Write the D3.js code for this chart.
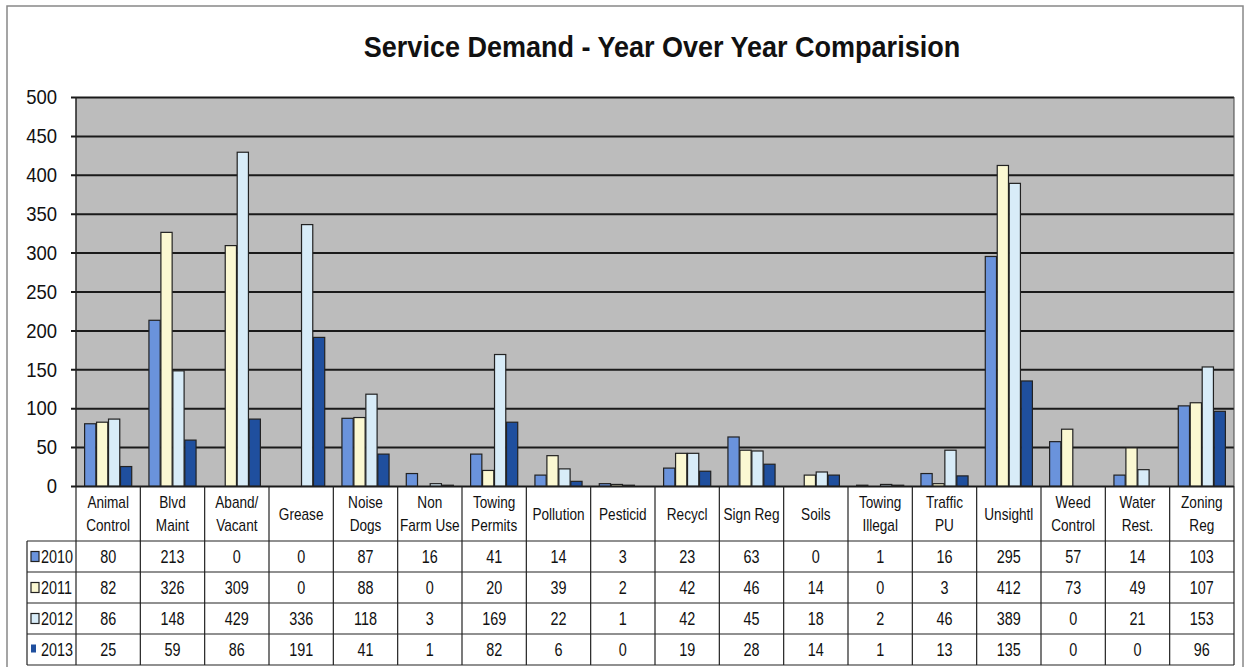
<!DOCTYPE html>
<html>
<head>
<meta charset="utf-8">
<script src="https://cdn.jsdelivr.net/npm/d3@7"></script>
<style>
	body { margin: 0; background: #fff; }
	svg text { font-family: "Liberation Sans", Arial, sans-serif; fill: #111; }
</style>
</head>
<body>
<div id="chart"></div>
<script>
// chart values
var categories = [["Animal", "Control"], ["Blvd", "Maint"], ["Aband/", "Vacant"], ["Grease"], ["Noise", "Dogs"],
	["Non", "Farm Use"], ["Towing", "Permits"], ["Pollution"], ["Pesticid"], ["Recycl"], ["Sign Reg"], ["Soils"],
	["Towing", "Illegal"], ["Traffic", "PU"], ["Unsightl"], ["Weed", "Control"], ["Water", "Rest."], ["Zoning", "Reg"]];
var years = ["2010", "2011", "2012", "2013"];
var values2010 = [80, 213, 0, 0, 87, 16, 41, 14, 3, 23, 63, 0, 1, 16, 295, 57, 14, 103];
var values2011 = [82, 326, 309, 0, 88, 0, 20, 39, 2, 42, 46, 14, 0, 3, 412, 73, 49, 107];
var values2012 = [86, 148, 429, 336, 118, 3, 169, 22, 1, 42, 45, 18, 2, 46, 389, 0, 21, 153];
var values2013 = [25, 59, 86, 191, 41, 1, 82, 6, 0, 19, 28, 14, 1, 13, 135, 0, 0, 96];
var yTicks = [0, 50, 100, 150, 200, 250, 300, 350, 400, 450, 500];

var series = [values2010, values2011, values2012, values2013];
var colors = ["#6a93dc", "#fbf8d2", "#d8ecf8", "#1f4f9e"];

var width = 1245, height = 667;
var plotLeft = 76, plotRight = 1234, plotTop = 97, plotBottom = 486;
var labelLeft = 27;
var headerBottom = 541;
var rowH = 31;

var svg = d3.select("#chart").append("svg")
	.attr("width", width)
	.attr("height", height);

// outer frame
svg.append("rect")
	.attr("x", 7).attr("y", 6)
	.attr("width", 1236).attr("height", 670)
	.attr("fill", "none")
	.attr("stroke", "#888")
	.attr("stroke-width", 1.5);

svg.append("text")
	.attr("class", "narrow")
	.attr("data-squeeze", 0.9)
	.attr("x", 662).attr("y", 57)
	.attr("text-anchor", "middle")
	.attr("font-size", 30)
	.attr("font-weight", "bold")
	.text("Service Demand - Year Over Year Comparision");

var xScale = d3.scaleBand()
	.domain(d3.range(categories.length))
	.range([plotLeft, plotRight]);

var xInner = d3.scaleBand()
	.domain(d3.range(years.length))
	.range([0, xScale.bandwidth()])
	.paddingOuter(0.72)
	.paddingInner(0.06);

var yScale = d3.scaleLinear()
	.domain([0, 500])
	.range([plotBottom, plotTop]);

// plot background
svg.append("rect")
	.attr("x", plotLeft).attr("y", plotTop)
	.attr("width", plotRight - plotLeft).attr("height", plotBottom - plotTop)
	.attr("fill", "#bcbcbc");

// gridlines + y axis
var yAxis = svg.append("g")
	.attr("transform", "translate(" + plotLeft + ",0)")
	.call(d3.axisLeft(yScale).tickValues(yTicks).tickSize(5).tickPadding(14).tickFormat(d3.format("d")));
yAxis.select(".domain").remove();
yAxis.selectAll(".tick line")
	.attr("x1", -5)
	.attr("x2", plotRight - plotLeft)
	.attr("stroke", "#1a1a1a")
	.attr("stroke-width", 2);
yAxis.selectAll(".tick text")
	.attr("class", "narrow")
	.attr("data-squeeze", 0.88)
	.attr("font-size", 21)
	.attr("font-family", "'Liberation Sans', Arial, sans-serif")
	.attr("fill", "#111");

// left + right plot edge
svg.append("line").attr("x1", plotLeft).attr("x2", plotLeft).attr("y1", plotTop).attr("y2", plotBottom)
	.attr("stroke", "#222").attr("stroke-width", 1.5);
svg.append("line").attr("x1", plotRight).attr("x2", plotRight).attr("y1", plotTop).attr("y2", plotBottom)
	.attr("stroke", "#444").attr("stroke-width", 1);

// bars
var groups = svg.selectAll(".grp")
	.data(series)
	.enter()
	.append("g")
	.attr("class", "grp");

groups.each(function(vals, s) {
	d3.select(this).selectAll("rect")
		.data(vals)
		.enter()
		.append("rect")
		.attr("x", function(d, i) { return xScale(i) + xInner(s); })
		.attr("y", function(d) { return yScale(d); })
		.attr("width", xInner.bandwidth())
		.attr("height", function(d) { return yScale(0) - yScale(d); })
		.attr("fill", colors[s])
		.attr("stroke", "#222")
		.attr("stroke-width", 1.2);
});

// data table
var table = svg.append("g");
var tableBottom = headerBottom + rowH * years.length;

table.selectAll(".vline")
	.data(d3.range(categories.length + 1))
	.enter()
	.append("line")
	.attr("x1", function(i) { return i < categories.length ? xScale(i) : plotRight; })
	.attr("x2", function(i) { return i < categories.length ? xScale(i) : plotRight; })
	.attr("y1", plotBottom)
	.attr("y2", tableBottom)
	.attr("stroke", "#222")
	.attr("stroke-width", 1.2);

table.append("line")
	.attr("x1", labelLeft).attr("x2", labelLeft)
	.attr("y1", headerBottom).attr("y2", tableBottom)
	.attr("stroke", "#222").attr("stroke-width", 1.2);

table.selectAll(".hline")
	.data(d3.range(years.length + 1))
	.enter()
	.append("line")
	.attr("x1", labelLeft)
	.attr("x2", plotRight)
	.attr("y1", function(i) { return headerBottom + i * rowH; })
	.attr("y2", function(i) { return headerBottom + i * rowH; })
	.attr("stroke", "#222")
	.attr("stroke-width", 1.2);

// category headers
table.selectAll(".cat")
	.data(categories)
	.enter()
	.append("text")
	.attr("class", "cat")
	.attr("text-anchor", "middle")
	.attr("font-size", 17)
	.each(function(lines, i) {
		var cx = xScale(i) + xScale.bandwidth() / 2;
		var t = d3.select(this);
		if (lines.length === 1) {
			t.append("tspan").attr("class", "narrow").attr("data-squeeze", 0.8).attr("x", cx).attr("y", 520).text(lines[0]);
		} else {
			t.append("tspan").attr("class", "narrow").attr("data-squeeze", 0.8).attr("x", cx).attr("y", 508).text(lines[0]);
			t.append("tspan").attr("class", "narrow").attr("data-squeeze", 0.8).attr("x", cx).attr("y", 531).text(lines[1]);
		}
	});

// rows
years.forEach(function(yr, s) {
	var cy = headerBottom + s * rowH + rowH / 2 + 6;
	table.append("rect")
		.attr("x", labelLeft + 4).attr("y", cy - 11)
		.attr("width", s === 3 ? 5 : 8).attr("height", s === 3 ? 8 : 10)
		.attr("fill", colors[s])
		.attr("stroke", s === 3 ? "none" : "#222")
		.attr("stroke-width", 1.2);
	table.append("text")
		.attr("class", "narrow")
		.attr("x", labelLeft + 14).attr("y", cy)
		.attr("font-size", 18)
		.text(yr);
	table.selectAll(".v" + s)
		.data(series[s])
		.enter()
		.append("text")
		.attr("class", "narrow")
		.attr("x", function(d, i) { return xScale(i) + xScale.bandwidth() / 2; })
		.attr("y", cy)
		.attr("text-anchor", "middle")
		.attr("font-size", 18)
		.text(function(d) { return d; });
});

// squeeze texts horizontally to imitate the condensed font of the original
svg.selectAll(".narrow").each(function() {
	var f = +(this.getAttribute("data-squeeze") || 0.8);
	var len = this.getComputedTextLength();
	d3.select(this)
		.attr("textLength", len * f)
		.attr("lengthAdjust", "spacingAndGlyphs");
});
</script>
</body>
</html>
